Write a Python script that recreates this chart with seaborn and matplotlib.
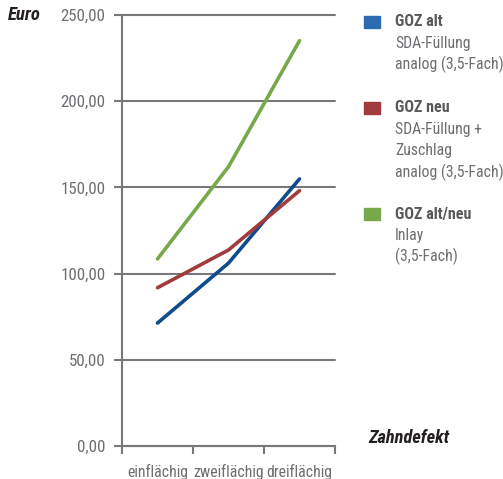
import matplotlib
matplotlib.use("Agg")
import matplotlib.pyplot as plt
import seaborn as sns
import pandas as pd
from matplotlib.patches import Rectangle
from matplotlib.ticker import FixedLocator, FuncFormatter

categories = ["einflächig", "zweiflächig", "dreiflächig"]
goz_alt = [71.3, 106.1, 154.9]
goz_neu = [91.8, 113.7, 148.1]
goz_alt_neu = [108.5, 162.0, 235.1]
series_names = ["GOZ alt", "GOZ neu", "GOZ alt/neu"]
series_sub = [["SDA-Füllung", "analog (3,5-Fach)"],
              ["SDA-Füllung +", "Zuschlag", "analog (3,5-Fach)"],
              ["Inlay", "(3,5-Fach)"]]
y_ticks = [0, 50, 100, 150, 200, 250]

line_colors = ["#0f4c8c", "#a23b3e", "#77a94a"]
legend_colors = ["#2b6cb0", "#a23b3e", "#77a94a"]

df = pd.DataFrame({
    "Zahndefekt": categories * 3,
    "Euro": goz_alt + goz_neu + goz_alt_neu,
    "Serie": [s for s in series_names for _ in categories],
})

sns.set_theme(style="white")
plt.rcParams["font.family"] = ["Roboto Condensed", "DejaVu Sans"]

fig = plt.figure(figsize=(5.03, 4.79), dpi=100)
ax = fig.add_axes([122 / 503, 1 - 446 / 479, (335 - 122) / 503, (446 - 15) / 479])

sns.lineplot(data=df, x="Zahndefekt", y="Euro", hue="Serie", palette=line_colors,
             linewidth=2.6, legend=False, ax=ax, sort=False)

ax.set_xlim(-0.5, 2.5)
ax.set_ylim(0, 250)
grid_c = "#77787b"
for v in y_ticks:
    ax.axhline(v, color=grid_c, lw=1.5, zorder=0, clip_on=False)
for s in ["top", "right"]:
    ax.spines[s].set_visible(False)
ax.spines["left"].set_color(grid_c)
ax.spines["left"].set_linewidth(1.5)
ax.spines["bottom"].set_color(grid_c)
ax.spines["bottom"].set_linewidth(1.5)

ax.yaxis.set_major_locator(FixedLocator(y_ticks))
ax.yaxis.set_major_formatter(FuncFormatter(lambda v, p: f"{v:.2f}".replace(".", ",")))
ax.tick_params(axis="y", which="major", direction="out", length=6, width=1.5,
               color=grid_c, labelcolor="#6d6e71", labelsize=12.2, pad=6, left=True)

ax.set_xticks(range(len(categories)))
ax.set_xticklabels(categories)
ax.set_xticks([-0.5, 0.5, 1.5, 2.5], minor=True)
ax.tick_params(axis="x", which="major", length=0, labelcolor="#6d6e71", labelsize=11.3, pad=13)
ax.tick_params(axis="x", which="minor", direction="out", length=6, width=1.5,
               color=grid_c, bottom=True)
ax.set_xlabel("")
ax.set_ylabel("")

fig.text(8 / 503, 1 - 15 / 479, "Euro", fontsize=13.5, fontweight="bold", fontstyle="italic",
         color="#231f20", va="center", ha="left")
fig.text(368 / 503, 1 - 438 / 479, "Zahndefekt", fontsize=13.2, fontweight="bold",
         fontstyle="italic", color="#231f20", va="center", ha="left")

starts = [22, 108, 214]
step = 21.3
for i, name in enumerate(series_names):
    y0 = starts[i]
    fig.patches.append(Rectangle((364 / 503, 1 - (y0 + 6) / 479), 16 / 503, 12 / 479,
                                 transform=fig.transFigure, color=legend_colors[i]))
    fig.text(395 / 503, 1 - y0 / 479, name, fontsize=11.5, fontweight="bold",
             color="#58595b", va="center", ha="left")
    for j, sub in enumerate(series_sub[i]):
        fig.text(395 / 503, 1 - (y0 + step * (j + 1)) / 479, sub, fontsize=11.3,
                 color="#6d6e71", va="center", ha="left")

fig.savefig("out.png", dpi=100)
